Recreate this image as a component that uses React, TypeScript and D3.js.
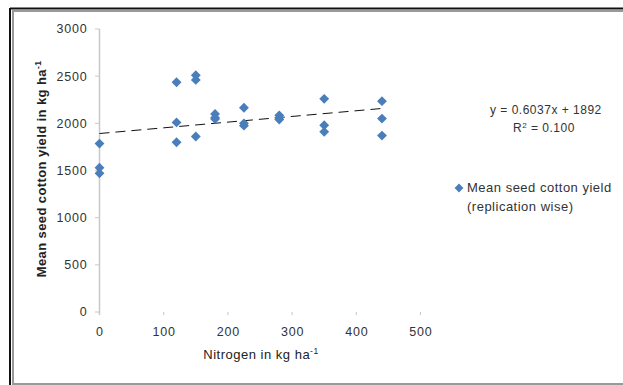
import React from "react";
import * as d3 from "d3";

const nitrogen = [0, 0, 0, 120, 120, 120, 150, 150, 150, 180, 180, 180, 225, 225, 225, 280, 280, 280, 350, 350, 350, 440, 440, 440];
const yieldValues = [1785, 1530, 1470, 2435, 2010, 1800, 2510, 2460, 1860, 2100, 2060, 2045, 2165, 2000, 1975, 2085, 2060, 2040, 2260, 1980, 1910, 2235, 2050, 1870];
const xTicks = [0, 100, 200, 300, 400, 500];
const yTicks = [0, 500, 1000, 1500, 2000, 2500, 3000];
const slope = 0.6037;
const intercept = 1892;
const equationText = "y = 0.6037x + 1892";
const r2Value = "0.100";
const legendLines = ["Mean seed cotton yield", "(replication wise)"];

export default function App() {
  const x = d3.scaleLinear().domain([0, 500]).range([99.5, 420.5]);
  const y = d3.scaleLinear().domain([0, 3000]).range([312, 29]);
  const diamond = d3.symbol(d3.symbolDiamond2, 62)()!;
  const legendDiamond = d3.symbol(d3.symbolDiamond2, 50)()!;
  const font = "'Liberation Sans', Arial, sans-serif";
  const blue = "#4a7ebb";
  const tickColor = "#c8c8c8";
  const trend = d3.line<number>().x((d) => x(d)).y((d) => y(slope * d + intercept));
  return (
    <svg width={623} height={385} style={{ position: "absolute", left: 0, top: 0 }}>
      <rect x={0} y={0} width={623} height={385} fill="#fff" />
      {/* frame */}
      <line x1={10} y1={8.5} x2={623} y2={8.5} stroke="#111" strokeWidth={2} />
      <line x1={10} y1={8} x2={10} y2={385} stroke="#111" strokeWidth={2} />
      <line x1={12} y1={11} x2={623} y2={11} stroke="#999" strokeWidth={2} />
      <line x1={13} y1={11} x2={13} y2={385} stroke="#999" strokeWidth={2} />
      <line x1={13} y1={384} x2={623} y2={384} stroke="#999" strokeWidth={2} />
      {/* y axis */}
      <line x1={99.5} y1={y(3000)} x2={99.5} y2={315} stroke={tickColor} strokeWidth={1.5} />
      {yTicks.map((t) => (
        <g key={"y" + t}>
          <line x1={95} x2={99.5} y1={y(t)} y2={y(t)} stroke={tickColor} />
          <text x={87.5} y={y(t)} dy="0.35em" textAnchor="end" fontSize={12.5} letterSpacing={0.8} fontFamily={font} fill="#333">
            {t}
          </text>
        </g>
      ))}
      {xTicks.map((t) => (
        <g key={"x" + t}>
          {t > 0 && <line x1={x(t)} x2={x(t)} y1={312} y2={315} stroke={tickColor} />}
          <text x={x(t) + 0.5} y={332} dy="0.35em" textAnchor="middle" fontSize={12.5} letterSpacing={0.8} fontFamily={font} fill="#333">
            {t}
          </text>
        </g>
      ))}
      {/* trendline */}
      <path d={trend([0, 440])!} fill="none" stroke="#111" strokeWidth={1} strokeDasharray="10,6" />
      {/* points */}
      {nitrogen.map((n, i) => (
        <path key={i} d={diamond} transform={`translate(${x(n)},${y(yieldValues[i])})`} fill={blue} />
      ))}
      {/* axis titles */}
      <text
        transform={`translate(46,169) rotate(-90)`}
        textAnchor="middle"
        fontSize={13}
        letterSpacing={0.4}
        fontWeight="bold"
        fontFamily={font}
        fill="#222"
      >
        Mean seed cotton yield in kg ha
        <tspan dy={-5} fontSize={8.5}>-1</tspan>
      </text>
      <text x={261} y={359} textAnchor="middle" fontSize={13} letterSpacing={0.5} fontFamily={font} fill="#222">
        Nitrogen in kg ha
        <tspan dy={-5} fontSize={8.5}>-1</tspan>
      </text>
      {/* equation */}
      <text x={490} y={114} fontSize={12} letterSpacing={0.5} fontFamily={font} fill="#333">
        {equationText}
      </text>
      <text x={513} y={132} fontSize={12} letterSpacing={0.5} fontFamily={font} fill="#333">
        R<tspan dy={-4} fontSize={8}>2</tspan>
        <tspan dy={4}> = {r2Value}</tspan>
      </text>
      {/* legend */}
      <path d={legendDiamond} transform="translate(459,188)" fill={blue} />
      <text x={467} y={192} fontSize={13} letterSpacing={0.5} fontFamily={font} fill="#333">
        {legendLines[0]}
      </text>
      <text x={467} y={211} fontSize={13} letterSpacing={0.5} fontFamily={font} fill="#333">
        {legendLines[1]}
      </text>
    </svg>
  );
}
